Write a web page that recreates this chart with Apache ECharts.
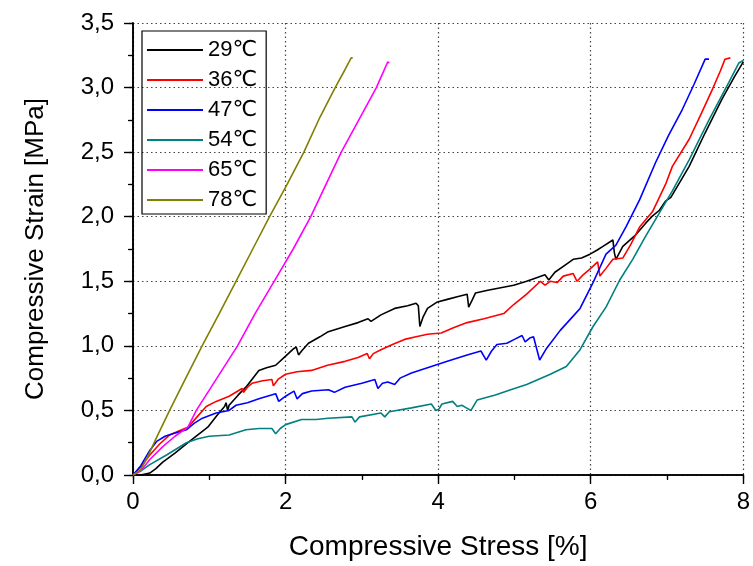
<!DOCTYPE html>
<html>
<head>
<meta charset="utf-8">
<script src="https://cdn.jsdelivr.net/npm/echarts@6/dist/echarts.min.js"></script>
<style>
  html, body { margin: 0; padding: 0; background: #fff; }
  #chart { width: 753px; height: 566px; }
</style>
</head>
<body>
<div id="chart"></div>
<script>
// series names (legend order)
const names = ['29℃', '36℃', '47℃', '54℃', '65℃', '78℃'];
const colors = ['#000000', '#ff0000', '#0000ff', '#008080', '#ff00ff', '#808000'];

// [stress %, strain MPa]
const s29 = [[0,0],[0.1,0.0],[0.22,0.015],[0.3,0.05],[0.39,0.10],[0.55,0.17],[0.72,0.25],[0.85,0.31],[0.98,0.37],[1.1,0.46],[1.2,0.53],[1.22,0.56],[1.24,0.5],[1.26,0.54],[1.38,0.62],[1.48,0.68],[1.65,0.81],[1.75,0.83],[1.87,0.85],[2.0,0.92],[2.11,0.98],[2.14,0.99],[2.17,0.93],[2.21,0.96],[2.3,1.02],[2.45,1.07],[2.56,1.11],[2.78,1.15],[2.95,1.18],[3.08,1.21],[3.12,1.19],[3.25,1.24],[3.43,1.29],[3.6,1.31],[3.71,1.33],[3.74,1.31],[3.76,1.15],[3.8,1.22],[3.86,1.29],[3.99,1.34],[4.12,1.36],[4.25,1.38],[4.38,1.40],[4.4,1.30],[4.45,1.36],[4.49,1.41],[4.65,1.43],[4.82,1.45],[4.99,1.47],[5.16,1.50],[5.3,1.53],[5.4,1.55],[5.45,1.51],[5.53,1.57],[5.65,1.62],[5.77,1.67],[5.88,1.68],[5.99,1.71],[6.08,1.74],[6.16,1.77],[6.29,1.82],[6.31,1.72],[6.33,1.67],[6.42,1.77],[6.59,1.86],[6.72,1.95],[6.8,2.0],[6.9,2.05],[6.98,2.12],[7.05,2.15],[7.18,2.28],[7.29,2.39],[7.5,2.65],[7.72,2.91],[7.89,3.09],[7.98,3.18],[8.0,3.2]];
const s36 = [[0,0],[0.1,0.06],[0.22,0.155],[0.35,0.24],[0.48,0.31],[0.6,0.34],[0.72,0.37],[0.84,0.45],[0.96,0.53],[1.09,0.57],[1.26,0.61],[1.43,0.67],[1.45,0.64],[1.5,0.68],[1.56,0.71],[1.7,0.73],[1.82,0.74],[1.84,0.69],[1.9,0.74],[2.0,0.78],[2.15,0.80],[2.34,0.81],[2.55,0.85],[2.78,0.88],[2.95,0.91],[3.07,0.94],[3.1,0.90],[3.15,0.94],[3.25,0.97],[3.4,1.01],[3.56,1.05],[3.71,1.07],[3.86,1.09],[4.04,1.10],[4.2,1.14],[4.38,1.18],[4.6,1.21],[4.86,1.25],[4.99,1.32],[5.16,1.40],[5.34,1.50],[5.4,1.47],[5.47,1.50],[5.56,1.49],[5.64,1.54],[5.77,1.56],[5.82,1.50],[5.9,1.55],[6.0,1.60],[6.09,1.65],[6.12,1.54],[6.2,1.60],[6.29,1.67],[6.42,1.68],[6.52,1.78],[6.64,1.92],[6.81,2.04],[6.98,2.25],[7.07,2.39],[7.29,2.60],[7.45,2.80],[7.59,2.98],[7.7,3.13],[7.76,3.22],[7.83,3.23]];
const s47 = [[0,0],[0.1,0.07],[0.22,0.19],[0.31,0.26],[0.42,0.30],[0.52,0.32],[0.7,0.35],[0.8,0.40],[0.91,0.44],[1.09,0.48],[1.26,0.50],[1.35,0.54],[1.5,0.56],[1.65,0.59],[1.87,0.63],[1.91,0.57],[2.0,0.61],[2.11,0.65],[2.15,0.59],[2.22,0.63],[2.34,0.65],[2.56,0.66],[2.64,0.64],[2.78,0.68],[3.0,0.71],[3.17,0.74],[3.21,0.67],[3.27,0.71],[3.34,0.72],[3.43,0.70],[3.5,0.75],[3.65,0.79],[3.86,0.83],[4.12,0.88],[4.38,0.93],[4.56,0.96],[4.63,0.89],[4.7,0.96],[4.77,1.01],[4.9,1.02],[5.0,1.05],[5.1,1.08],[5.14,1.03],[5.2,1.06],[5.25,1.07],[5.33,0.89],[5.42,0.98],[5.6,1.12],[5.77,1.23],[5.86,1.29],[6.03,1.49],[6.2,1.71],[6.33,1.78],[6.46,1.92],[6.64,2.13],[6.85,2.42],[7.02,2.63],[7.2,2.83],[7.35,3.02],[7.5,3.22],[7.55,3.22]];
const s54 = [[0,0],[0.1,0.03],[0.22,0.08],[0.44,0.155],[0.7,0.25],[0.85,0.28],[1.0,0.30],[1.26,0.31],[1.48,0.35],[1.65,0.36],[1.82,0.36],[1.87,0.32],[1.93,0.36],[2.0,0.39],[2.21,0.43],[2.4,0.43],[2.56,0.44],[2.87,0.45],[2.91,0.41],[2.97,0.45],[3.25,0.48],[3.3,0.45],[3.36,0.49],[3.65,0.52],[3.91,0.55],[3.97,0.50],[4.01,0.51],[4.05,0.55],[4.19,0.57],[4.25,0.53],[4.31,0.54],[4.37,0.52],[4.43,0.50],[4.51,0.58],[4.75,0.62],[4.95,0.66],[5.16,0.70],[5.47,0.78],[5.68,0.84],[5.86,0.97],[6.03,1.15],[6.2,1.30],[6.38,1.51],[6.55,1.67],[6.72,1.85],[6.9,2.03],[7.07,2.2],[7.29,2.44],[7.55,2.75],[7.81,3.04],[7.94,3.19],[8.0,3.21]];
const s65 = [[0,0],[0.1,0.03],[0.22,0.12],[0.39,0.22],[0.55,0.3],[0.72,0.37],[0.83,0.5],[1.1,0.75],[1.37,1.0],[1.6,1.25],[1.85,1.5],[2.1,1.75],[2.33,2.0],[2.53,2.25],[2.73,2.5],[2.96,2.75],[3.19,3.0],[3.28,3.12],[3.34,3.2],[3.36,3.19]];
const s78 = [[0,0],[0.1,0.04],[0.2,0.15],[0.3,0.28],[0.48,0.5],[0.7,0.76],[0.906,1.0],[1.13,1.25],[1.35,1.5],[1.57,1.75],[1.79,2.0],[2.02,2.25],[2.24,2.5],[2.45,2.77],[2.65,3.0],[2.78,3.14],[2.86,3.23],[2.88,3.23]];
const curves = [s29, s36, s47, s54, s65, s78];

const font = '"Liberation Sans", Arial, "DejaVu Sans", "Noto Sans CJK SC", sans-serif';
const chart = echarts.init(document.getElementById('chart'));

const frameAxis = {
  axisLine: { show: true, lineStyle: { color: '#000', width: 1.6 } },
  axisLabel: { show: false },
  splitLine: { show: false },
  axisTick: { show: true, inside: true, length: 4, lineStyle: { color: '#000', width: 1.2 } },
  minorTick: { show: true, splitNumber: 2, length: 4, lineStyle: { color: '#000', width: 1.2 } }
};

chart.setOption({
  animation: false,
  backgroundColor: '#fff',
  grid: { left: 133, right: 5, top: 23, bottom: 91, containLabel: false },
  legend: {
    orient: 'vertical',
    left: 142,
    top: 31,
    padding: [7, 9, 2, 5],
    borderColor: '#000',
    borderWidth: 1.2,
    icon: 'rect',
    itemWidth: 56,
    itemHeight: 2,
    itemGap: 6,
    textStyle: { fontFamily: font, fontSize: 22, lineHeight: 24, color: '#000' },
    data: names
  },
  xAxis: [{
    type: 'value',
    min: 0, max: 8, interval: 2,
    name: 'Compressive Stress [%]',
    nameLocation: 'middle',
    nameGap: 58,
    nameTextStyle: { fontFamily: font, fontSize: 28, color: '#000' },
    axisLine: { show: true, onZero: false, lineStyle: { color: '#000', width: 1.6 } },
    axisTick: { show: true, length: 9, lineStyle: { color: '#000', width: 1.4 } },
    minorTick: { show: true, splitNumber: 2, length: 5, lineStyle: { color: '#000', width: 1.2 } },
    axisLabel: { fontFamily: font, fontSize: 24, color: '#000', margin: 15 },
    splitLine: { show: true, lineStyle: { color: '#444', type: [1.5, 3], width: 1.2 } }
  }, Object.assign({ type: 'value', position: 'top', min: 0, max: 8, interval: 2 }, frameAxis)],
  yAxis: [{
    type: 'value',
    min: 0, max: 3.5, interval: 0.5,
    name: 'Compressive Strain [MPa]',
    nameLocation: 'middle',
    nameGap: 84,
    nameTextStyle: { fontFamily: font, fontSize: 26, color: '#000' },
    axisLine: { show: true, onZero: false, lineStyle: { color: '#000', width: 1.6 } },
    axisTick: { show: true, length: 9, lineStyle: { color: '#000', width: 1.4 } },
    minorTick: { show: true, splitNumber: 2, length: 5, lineStyle: { color: '#000', width: 1.2 } },
    axisLabel: {
      fontFamily: font, fontSize: 24, color: '#000', margin: 19,
      formatter: v => v.toFixed(1).replace('.', ',')
    },
    splitLine: { show: true, lineStyle: { color: '#444', type: [1.5, 3], width: 1.2 } }
  }, Object.assign({ type: 'value', position: 'right', min: 0, max: 3.5, interval: 0.5 }, frameAxis)],
  series: curves.map((d, i) => ({
    name: names[i],
    type: 'line',
    data: d,
    showSymbol: false,
    symbol: 'none',
    color: colors[i],
    lineStyle: { width: 1.6, color: colors[i] },
    xAxisIndex: 0,
    yAxisIndex: 0,
    z: 3
  }))
});
</script>
</body>
</html>
